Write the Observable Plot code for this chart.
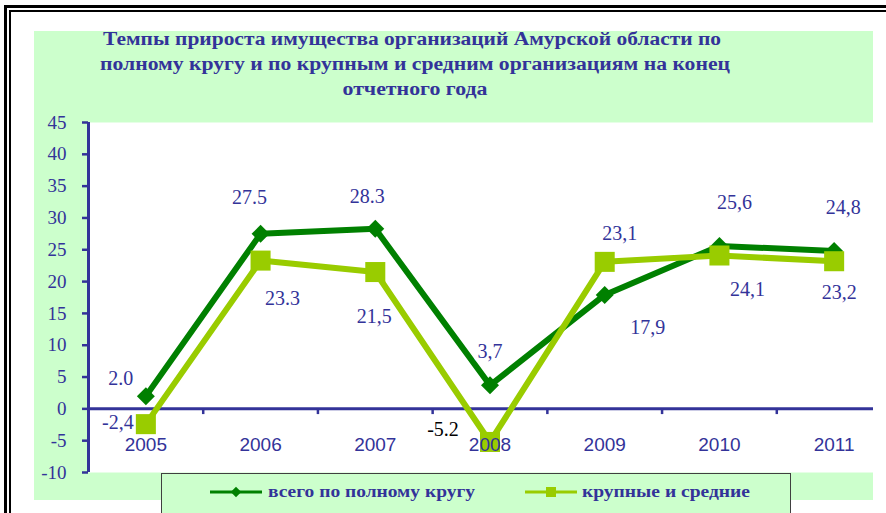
<!DOCTYPE html>
<html>
<head>
<meta charset="utf-8">
<script src="https://cdn.jsdelivr.net/npm/d3@7"></script>
<script src="https://cdn.jsdelivr.net/npm/@observablehq/plot@0.6"></script>
<style>
  html, body { margin: 0; padding: 0; background: #ffffff; }
  body { width: 886px; height: 513px; overflow: hidden; position: relative; }
  #outerA { position: absolute; left: 4px; top: 5px; width: 900px; height: 600px;
            border-left: 3px solid #000; border-top: 3px solid #000; }
  #outerB { position: absolute; left: 9px; top: 10px; width: 900px; height: 600px;
            border-left: 2px solid #000; border-top: 2px solid #000; }
  #panel { position: absolute; left: 34px; top: 31px; width: 839px; height: 469px; background: #CCFFCC; }
  #title { position: absolute; left: 0; top: 0; }
  #chart { position: absolute; left: 0; top: 0; }
  #legendBox { position: absolute; left: 161px; top: 473px; width: 628px; height: 60px;
               background: #CCFFCC; border: 1.5px solid #404040; }
  #legend { position: absolute; left: 0; top: 0; }
</style>
</head>
<body>
<div id="outerA"></div>
<div id="outerB"></div>
<div id="panel"></div>
<div id="chart"></div>
<div id="legendBox"></div>
<svg id="legend" width="886" height="513"></svg>
<svg id="title" width="886" height="120"></svg>
<script>
// ---- data ----
const years = [2005, 2006, 2007, 2008, 2009, 2010, 2011];
const totalValues = [2.0, 27.5, 28.3, 3.7, 17.9, 25.6, 24.8];
const largeValues = [-2.4, 23.3, 21.5, -5.2, 23.1, 24.1, 23.2];
const totalLabels = ["2.0", "27.5", "28.3", "3,7", "17,9", "25,6", "24,8"];
const largeLabels = ["-2,4", "23.3", "21,5", "-5.2", "23,1", "24,1", "23,2"];
const yTicks = [-10, -5, 0, 5, 10, 15, 20, 25, 30, 35, 40, 45];
const seriesNames = ["всего по полному кругу", "крупные и средние"];
const titleLines = [
  "Темпы прироста имущества организаций Амурской области по",
  "полному кругу  и по крупным и средним организациям на конец",
  "отчетного года"
];

// ---- layout (label nudges, px) ----
const totalNudge = [[-25, -18], [-11, -36], [-8, -32], [0, -34], [43, 33], [15, -43], [9, -43]];
const largeNudge = [[-28, -2], [22, 38], [-1, 45], [-47, -12], [15, -28], [28, 34], [5, 31]];

const dark = "#008000", light = "#99CC00", navy = "#333399";
const serif = "Liberation Serif, Times New Roman, serif";
const sans = "Liberation Sans, Arial, sans-serif";

const rows = years.map((year, i) => ({year, total: totalValues[i], large: largeValues[i],
  totalLabel: totalLabels[i], largeLabel: largeLabels[i], i}));
const boundaries = years.slice(1).map(y => y - 0.5);
const xMin = years[0] - 0.5, xMax = years[years.length - 1] + 0.5;

const labelMarks = [];
rows.forEach((r, i) => {
  labelMarks.push(Plot.text([r], {x: "year", y: "total", text: "totalLabel",
    dx: totalNudge[i][0], dy: totalNudge[i][1], fill: navy, fontSize: 20, fontFamily: serif,
    stroke: i === 3 ? "white" : null, strokeWidth: i === 3 ? 8 : 0}));
  labelMarks.push(Plot.text([r], {x: "year", y: "large", text: "largeLabel",
    dx: largeNudge[i][0], dy: largeNudge[i][1], fill: i === 3 ? "#000" : navy, fontSize: 20, fontFamily: serif}));
});

const chart = Plot.plot({
  width: 886, height: 513,
  marginLeft: 88, marginRight: 13, marginTop: 122, marginBottom: 41,
  x: {domain: [xMin, xMax], range: [88, 891], axis: null},
  y: {domain: [-10, 45], axis: null},
  style: {background: "transparent", overflow: "visible"},
  marks: [
    Plot.frame({fill: "white", stroke: "none"}),
    Plot.ruleY([0], {stroke: navy, strokeWidth: 3}),
    Plot.ruleX(boundaries, {x: d => d, y1: 0, y2: -0.9, stroke: navy, strokeWidth: 2.5}),
    Plot.ruleX([xMin], {y1: -10, y2: 45, stroke: navy, strokeWidth: 3}),
    Plot.axisY(yTicks, {tickSize: 6, tickPadding: 16, tickFormat: d => String(d),
      color: navy, strokeWidth: 2.5, fontSize: 19, fontFamily: serif}),
    Plot.line(rows, {x: "year", y: "total", stroke: dark, strokeWidth: 6, strokeLinejoin: "miter"}),
    Plot.dot(rows, {x: "year", y: "total", symbol: "diamond2", r: 8.1, fill: dark, stroke: "none"}),
    Plot.line(rows, {x: "year", y: "large", stroke: light, strokeWidth: 6, strokeLinejoin: "miter"}),
    Plot.dot(rows, {x: "year", y: "large", symbol: "square", r: 11.3, fill: light, stroke: "none"}),
    Plot.text(years, {x: d => d, y: 0, dy: 36, text: d => String(d), fill: navy, fontSize: 19, fontFamily: sans}),
    ...labelMarks
  ]
});
document.getElementById("chart").appendChild(chart);

// ---- title ----
const tsvg = d3.select("#title");
const titleGeom = [[412, 45, 618], [415, 70, 630], [415, 95, 145]];
titleLines.forEach((t, i) => {
  tsvg.append("text").attr("x", titleGeom[i][0]).attr("y", titleGeom[i][1])
    .attr("text-anchor", "middle").attr("textLength", titleGeom[i][2])
    .attr("lengthAdjust", "spacingAndGlyphs")
    .attr("font-family", serif).attr("font-size", 18).attr("font-weight", "bold")
    .attr("fill", navy).text(t);
});

// ---- legend ----
const lsvg = d3.select("#legend");
const ly = 492;
const legendItems = [
  {name: seriesNames[0], color: dark, x1: 210, x2: 262, tx: 268, tw: 207, sym: d3.symbolDiamond2, size: 70},
  {name: seriesNames[1], color: light, x1: 525, x2: 577, tx: 582, tw: 168, sym: d3.symbolSquare, size: 100}
];
legendItems.forEach(it => {
  lsvg.append("line").attr("x1", it.x1).attr("x2", it.x2).attr("y1", ly).attr("y2", ly)
    .attr("stroke", it.color).attr("stroke-width", 3);
  lsvg.append("path").attr("d", d3.symbol(it.sym, it.size)())
    .attr("transform", `translate(${(it.x1 + it.x2) / 2},${ly})`).attr("fill", it.color);
  lsvg.append("text").attr("x", it.tx).attr("y", ly + 5).attr("textLength", it.tw)
    .attr("lengthAdjust", "spacingAndGlyphs")
    .attr("font-family", serif).attr("font-size", 16).attr("font-weight", "bold")
    .attr("fill", navy).text(it.name);
});
</script>
</body>
</html>
